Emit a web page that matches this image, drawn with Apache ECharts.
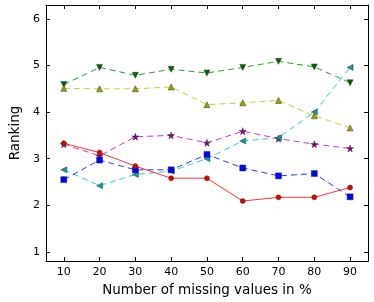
<!DOCTYPE html>
<html><head><meta charset="utf-8">
<script src="https://cdn.jsdelivr.net/npm/echarts@6/dist/echarts.min.js"></script>
<style>html,body{margin:0;padding:0;background:#fff}#c{width:374px;height:302px}</style>
</head><body><div id="c"></div>
<script>
const xValues = [10, 20, 30, 40, 50, 60, 70, 80, 90];
const xTicks = [10, 20, 30, 40, 50, 60, 70, 80, 90];
const yTicks = [1, 2, 3, 4, 5, 6];
const redCircle = [3.33, 3.13, 2.84, 2.58, 2.58, 2.09, 2.17, 2.17, 2.38];
const blueSquare = [2.55, 2.97, 2.76, 2.76, 3.09, 2.80, 2.63, 2.68, 2.18];
const cyanLeftTri = [2.76, 2.42, 2.66, 2.73, 3.00, 3.38, 3.45, 4.00, 4.96];
const magentaStar = [3.31, 3.06, 3.47, 3.50, 3.34, 3.59, 3.43, 3.31, 3.22];
const yellowUpTri = [4.51, 4.50, 4.50, 4.54, 4.16, 4.20, 4.25, 3.92, 3.66];
const greenDownTri = [4.59, 4.96, 4.79, 4.92, 4.84, 4.96, 5.09, 4.97, 4.63];

const pair = arr => xValues.map((x, i) => [x, arr[i]]);
const starPath = 'path://M50,0 L61.8,35.4 L97.6,34.5 L69,56.6 L79.4,90.5 L50,70 L20.6,90.5 L31,56.6 L2.4,34.5 L38.2,35.4 Z';
const leftTri = 'path://M0,50 L100,0 L100,100 Z';
const upTri = 'path://M50,0 L100,100 L0,100 Z';
const downTri = 'path://M0,0 L100,0 L50,100 Z';

function mk(data, lineColor, markerColor, symbol, size, type) {
  return {
    type: 'line', data: pair(data), symbol: symbol, symbolSize: size,
    lineStyle: {color: lineColor, width: 1, type: type, opacity: 0.8},
    itemStyle: {color: markerColor, borderColor: '#333', borderWidth: 0.5},
    showAllSymbol: true, animation: false, z: 3
  };
}
const font = 'DejaVu Sans';
const chart = echarts.init(document.getElementById('c'));
const axisLine = {show: true, lineStyle: {color: '#000', width: 1}};
chart.setOption({
  backgroundColor: '#fff',
  grid: {left: 32, right: 6, top: 5, bottom: 36},
  xAxis: [
    {type: 'value', min: 5, max: 95, position: 'bottom',
     axisLine: axisLine, splitLine: {show: false},
     axisTick: {inside: true, length: 4, customValues: xTicks, lineStyle: {color: '#000'}},
     axisLabel: {customValues: xTicks, color: '#000', fontFamily: font, fontSize: 11, margin: 6},
     name: 'Number of missing values in %', nameLocation: 'middle', nameGap: 19,
     nameTextStyle: {color: '#000', fontFamily: font, fontSize: 13.5}},
    {type: 'value', min: 5, max: 95, position: 'top',
     axisLine: axisLine, splitLine: {show: false},
     axisTick: {inside: true, length: 4, customValues: xTicks, lineStyle: {color: '#000'}},
     axisLabel: {show: false}}
  ],
  yAxis: [
    {type: 'value', min: 0.8, max: 6.3, position: 'left',
     axisLine: axisLine, splitLine: {show: false},
     axisTick: {inside: true, length: 4, customValues: yTicks, lineStyle: {color: '#000'}},
     axisLabel: {customValues: yTicks, color: '#000', fontFamily: font, fontSize: 11, margin: 6},
     name: 'Ranking', nameLocation: 'middle', nameGap: 17, nameRotate: 90,
     nameTextStyle: {color: '#000', fontFamily: font, fontSize: 13.5}},
    {type: 'value', min: 0.8, max: 6.3, position: 'right',
     axisLine: axisLine, splitLine: {show: false},
     axisTick: {inside: true, length: 4, customValues: yTicks, lineStyle: {color: '#000'}},
     axisLabel: {show: false}}
  ],
  series: [
    mk(greenDownTri, '#008000', '#006400', downTri, 6, [6, 4]),
    mk(yellowUpTri, '#bfbf00', '#a0a000', upTri, 6, [6, 4]),
    mk(magentaStar, '#bf00bf', '#800080', starPath, 7, [6, 4]),
    mk(cyanLeftTri, '#00bfbf', '#00a0a0', leftTri, 6, [6, 4]),
    mk(blueSquare, '#0000ff', '#0000ff', 'rect', 6, [6, 4]),
    mk(redCircle, '#ff0000', '#e00000', 'circle', 5, 'solid')
  ]
});
</script></body></html>
